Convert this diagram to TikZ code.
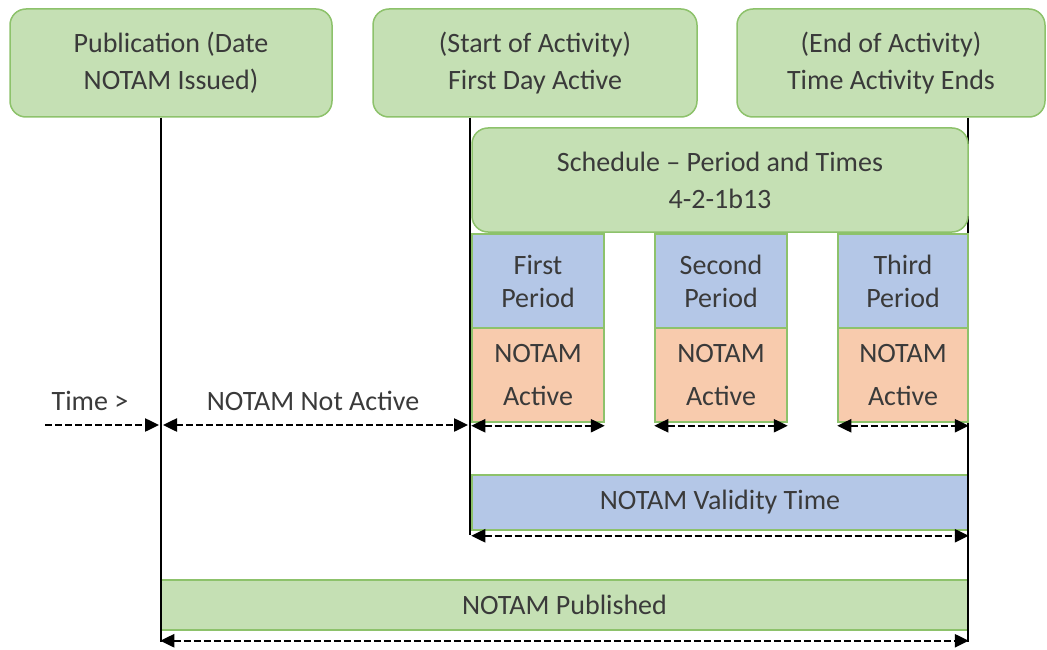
\documentclass[tikz,border=0pt]{standalone}
\usepackage{fontspec}
\setmainfont{Carlito}
\usetikzlibrary{arrows.meta}
\definecolor{gfill}{HTML}{C5E0B4}
\definecolor{gdraw}{HTML}{8DC26B}
\definecolor{bfill}{HTML}{B4C7E7}
\definecolor{ofill}{HTML}{F8CBAD}
\definecolor{txt}{HTML}{3A3A3A}
\begin{document}
\begin{tikzpicture}[x=1pt,y=-1pt,
  box/.style={draw=gdraw, line width=1.5pt, align=center, text=txt, inner sep=0pt,
    font=\fontsize{28}{37}\selectfont},
  gbox/.style={box, fill=gfill, rounded corners=16pt},
  bbox/.style={box, fill=bfill},
  obox/.style={box, fill=ofill},
  pbox/.style={box, minimum width=132pt, minimum height=94pt},
  lbl/.style={text=txt, inner sep=0pt, font=\fontsize{28}{37}\selectfont},
  vline/.style={line width=2pt, black},
  dimarrow/.style={line width=2.5pt, dash pattern=on 7pt off 3pt,
    {Triangle[length=14pt,width=13pt]}-{Triangle[length=14pt,width=13pt]}},
  onearrow/.style={line width=2.5pt, dash pattern=on 7pt off 3pt,
    -{Triangle[length=14pt,width=13pt]}}
]
\useasboundingbox (0,0) rectangle (1047,650);

% coordinates for line ends
\coordinate (pl) at (161,642);
\coordinate (sl) at (470,535);
\coordinate (el) at (968,642);

% background boxes (lower)
\node[bbox, minimum width=496pt, minimum height=55pt] (valid) at (720,502.5) {NOTAM Validity Time};
\node[gbox, rounded corners=0pt, minimum width=807pt, minimum height=50pt] (publ) at (564.5,605) {NOTAM Published};

% top boxes
\node[gbox, minimum width=322pt, minimum height=108pt] (pub) at (171,63) {Publication (Date\\NOTAM Issued)};
\node[gbox, minimum width=324pt, minimum height=108pt] (start) at (535,63) {(Start of Activity)\\First Day Active};
\node[gbox, minimum width=308pt, minimum height=108pt] (endb) at (891,63) {(End of Activity)\\Time Activity Ends};

% vertical lines
\draw[vline] (pub.south -| pl) -- (pl);
\draw[vline] (start.south -| sl) -- (sl);
\draw[vline] (endb.south -| el) -- (el);

% schedule
\node[gbox, minimum width=496pt, minimum height=104pt] (sched) at (720,180) {Schedule -- Period and Times\\4-2-1b13};

% periods
\node[bbox, pbox] (p1) at (538,281) {First\\[-4pt]Period};
\node[bbox, pbox] (p2) at (721,281) {Second\\[-4pt]Period};
\node[bbox, pbox, minimum width=130pt] (p3) at (903,281) {Third\\[-4pt]Period};
\node[obox, pbox] (a1) at (538,375) {NOTAM\\[6pt]Active};
\node[obox, pbox] (a2) at (721,375) {NOTAM\\[6pt]Active};
\node[obox, pbox, minimum width=130pt] (a3) at (903,375) {NOTAM\\[6pt]Active};

% labels
\node[lbl] (time) at (90,401) {Time >};
\node[lbl] (notact) at (313,401) {NOTAM Not Active};

% arrows
\coordinate (t0) at (45,425);
\coordinate (t1) at (159,425);
\coordinate (n0) at (163,425);
\coordinate (n1) at (468,425);
\draw[onearrow] (t0) -- (t1);
\draw[dimarrow] (n0) -- (n1);
\draw[dimarrow] ([yshift=-3pt]a1.south west) -- ([yshift=-3pt]a1.south east);
\draw[dimarrow] ([yshift=-3pt]a2.south west) -- ([yshift=-3pt]a2.south east);
\draw[dimarrow] ([yshift=-3pt]a3.south west) -- ([yshift=-3pt]a3.south east);
\draw[dimarrow] ([yshift=-5pt]valid.south west) -- ([yshift=-5pt]valid.south east);
\draw[dimarrow] ([yshift=-10pt]publ.south west) -- ([yshift=-10pt]publ.south east);
\end{tikzpicture}
\end{document}
